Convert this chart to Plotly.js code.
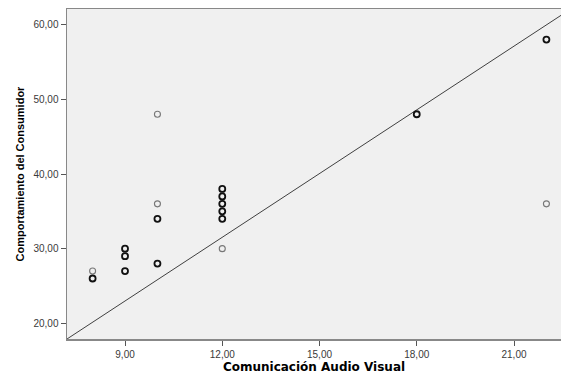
<!DOCTYPE html>
<html>
<head>
<meta charset="utf-8">
<script src="https://cdn.plot.ly/plotly-3.0.1.min.js"></script>
<style>html,body{margin:0;padding:0;background:#fff;}#chart{width:561px;height:376px;}</style>
</head>
<body>
<div id="chart"></div>
<script>
// Data (count > 1 = overlapping cases, drawn darker)
var comunicacion = [8, 8, 9, 9, 9, 10, 10, 10, 10, 12, 12, 12, 12, 12, 12, 18, 22, 22];
var comportamiento = [27, 26, 30, 29, 27, 48, 36, 34, 28, 38, 37, 36, 35, 34, 30, 48, 58, 36];
var casos = [1, 2, 2, 2, 2, 1, 1, 2, 2, 2, 2, 2, 2, 2, 1, 2, 2, 1];

// Fit line as drawn (endpoints in data units)
var lineaX = [7.21, 22.45];
var lineaY = [17.9, 61.25];

var xTicks = [9, 12, 15, 18, 21];
var xTickText = ['9,00', '12,00', '15,00', '18,00', '21,00'];
var yTicks = [20, 30, 40, 50, 60];
var yTickText = ['20,00', '30,00', '40,00', '50,00', '60,00'];

var lineColors = casos.map(function (c) { return c > 1 ? '#111111' : '#777777'; });
var lineWidths = casos.map(function (c) { return c > 1 ? 1.8 : 1.1; });

var traces = [
  {
    x: lineaX, y: lineaY, type: 'scatter', mode: 'lines',
    line: { color: '#404040', width: 1 }, hoverinfo: 'skip', showlegend: false
  },
  {
    x: comunicacion, y: comportamiento, type: 'scatter', mode: 'markers',
    marker: { symbol: 'circle-open', size: 6, color: lineColors, line: { color: lineColors, width: lineWidths } },
    showlegend: false
  }
];

var axisFont = { family: 'Liberation Sans, Arial, sans-serif', size: 10, color: '#3a3a3a' };

var layout = {
  width: 561, height: 376,
  margin: { l: 67, r: 0, t: 9, b: 37, pad: 0 },
  paper_bgcolor: '#ffffff',
  plot_bgcolor: '#f0f0f0',
  showlegend: false,
  xaxis: {
    range: [7.21, 22.45],
    tickvals: xTicks, ticktext: xTickText,
    ticks: 'outside', ticklen: 5, tickcolor: '#555555', tickwidth: 1,
    showgrid: false, zeroline: false,
    showline: true, linecolor: '#888888', linewidth: 1.5, mirror: true,
    tickfont: axisFont,
    title: { text: 'Comunicación Audio Visual', font: { family: 'DejaVu Sans, sans-serif', size: 12, color: '#000000', weight: 'bold' }, standoff: 4 }
  },
  yaxis: {
    range: [17.9, 62.1],
    tickvals: yTicks, ticktext: yTickText,
    ticks: 'outside', ticklen: 5, tickcolor: '#555555', tickwidth: 1,
    showgrid: false, zeroline: false,
    showline: true, linecolor: '#888888', linewidth: 1.5, mirror: false,
    tickfont: axisFont,
    title: { text: 'Comportamiento del Consumidor', font: { family: 'Liberation Sans, Arial, sans-serif', size: 11, color: '#000000', weight: 'bold' }, standoff: 6 }
  }
};

Plotly.newPlot('chart', traces, layout, { displayModeBar: false, staticPlot: true });
</script>
</body>
</html>
